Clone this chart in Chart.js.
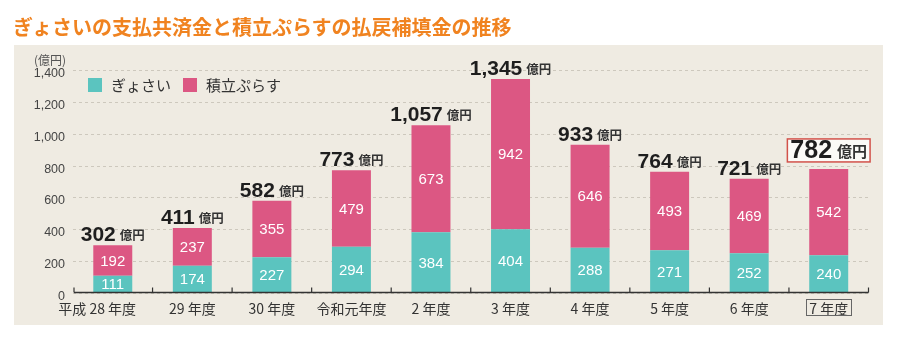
<!DOCTYPE html>
<html><head><meta charset="utf-8">
<script src="https://cdn.jsdelivr.net/npm/chart.js@4/dist/chart.umd.min.js"></script>
<style>
html,body{margin:0;padding:0;background:#fff;}
#wrap{position:relative;width:898px;height:340px;overflow:hidden;}
h1{position:absolute;left:13px;top:15px;margin:0;font:bold 20px "Noto Sans CJK JP";color:#f08320;white-space:nowrap;line-height:24px;}
canvas{position:absolute;left:0;top:0;}
</style></head>
<body><div id="wrap"><canvas id="c" width="898" height="340"></canvas><h1>ぎょさいの支払共済金と積立ぷらすの払戻補填金の推移</h1></div>
<script>
const categories = ['平成 28 年度','29 年度','30 年度','令和元年度','2 年度','3 年度','4 年度','5 年度','6 年度','7 年度'];
const gyosai = [111,174,227,294,384,404,288,271,252,240];
const tsumitate = [192,237,355,479,673,942,646,493,469,542];
const totals = [302,411,582,773,1057,1345,933,764,721,782];
const seriesNames = ['ぎょさい','積立ぷらす'];
const unitLabel = '億円';
const axisUnit = '(億円)';

const F = '"Liberation Sans","Noto Sans CJK JP",sans-serif';
const FJ = '"Noto Sans CJK JP",sans-serif';
const TEAL = '#5bc4bf';
const PINK = '#dc5783';

const deco = {
  id:'deco',
  beforeDraw(chart){
    const c = chart.ctx;
    c.save();
    c.fillStyle = '#efebe2';
    c.fillRect(14,45,869,280);
    c.restore();
  },
  afterDatasetsDraw(chart){
    const c = chart.ctx, a = chart.chartArea, xs = chart.scales.x;
    c.save();
    // axis line + ticks
    const ay = a.bottom - 1;
    c.strokeStyle = '#333'; c.lineWidth = 1.6;
    c.beginPath(); c.moveTo(a.left+1, ay); c.lineTo(a.right, ay); c.stroke();
    c.lineWidth = 1.2;
    const n = categories.length;
    for(let i=0;i<=n;i++){
      let x;
      if(i===0) x = a.left+1; else if(i===n) x = a.right;
      else x = (xs.getPixelForValue(i-1)+xs.getPixelForValue(i))/2;
      c.beginPath(); c.moveTo(x, ay); c.lineTo(x, ay-5); c.stroke();
    }
    // category labels
    c.font = '14px '+FJ; c.fillStyle = '#333'; c.textBaseline='middle'; c.textAlign='left';
    categories.forEach((lab,i)=>{
      const cx = xs.getPixelForValue(i);
      const sp = lab.indexOf(' ');
      let x0;
      if(i===0 && sp>0){
        const rest = lab.slice(sp+1);
        const wr = c.measureText(rest).width, wa = c.measureText(lab).width;
        x0 = cx + wr/2 - wa;
      } else {
        x0 = cx - c.measureText(lab).width/2;
      }
      c.fillText(lab, x0, 308.5);
      if(i===n-1){
        const lw = c.measureText(lab).width;
        c.strokeStyle='#666'; c.lineWidth=1;
        c.strokeRect(Math.round(x0-3)+0.5, 299.5, Math.round(lw+6), 16);
      }
    });
    // inside labels
    c.fillStyle = '#fff'; c.font = '15px '+F; c.textAlign='center'; c.textBaseline='middle';
    [0,1].forEach(d=>{
      const meta = chart.getDatasetMeta(d);
      const vals = d===0?gyosai:tsumitate;
      meta.data.forEach((el,i)=>{
        const yb = d===0 ? Math.min(el.base, ay) : el.base;
        c.fillText(String(vals[i]), el.x, (el.y+yb)/2+1);
      });
    });
    // totals
    const top = chart.getDatasetMeta(1);
    top.data.forEach((el,i)=>{
      const last = i===totals.length-1;
      const numFont = 'bold '+(last?25:21)+'px '+F;
      const unitFont = 'bold '+(last?15:12.5)+'px '+FJ;
      const txt = totals[i].toLocaleString('en-US');
      c.font = numFont; const w1 = c.measureText(txt).width;
      c.font = unitFont; const w2 = c.measureText(unitLabel).width;
      const gap = last?5:4;
      const W = w1+gap+w2;
      const x0 = el.x - W/2;
      const yb = el.y - (last?11:4);
      if(last){
        c.fillStyle='#fbfaf7';
        c.fillRect(x0-3, yb-19, W+6, 23);
        c.strokeStyle='#d2524a'; c.lineWidth=1.5;
        c.strokeRect(x0-3, yb-19, W+6, 23);
      }
      c.textAlign='left'; c.textBaseline='alphabetic';
      c.fillStyle='#1e1e1e'; c.font=numFont; c.fillText(txt, x0, yb);
      c.fillStyle='#333'; c.font=unitFont; c.fillText(unitLabel, x0+w1+gap, yb-1);
    });
    // legend
    c.textAlign='left'; c.textBaseline='middle'; c.font='15px '+FJ;
    let lxp = 88;
    [TEAL,PINK].forEach((col,k)=>{
      c.fillStyle=col; c.fillRect(lxp,78,14,14);
      c.fillStyle='#333'; c.fillText(seriesNames[k], lxp+23, 85.5);
      lxp = 183;
    });
    // unit
    c.font='12px '+FJ; c.fillStyle='#555'; c.textAlign='left';
    c.fillText(axisUnit, 34, 60);
    c.restore();
  }
};

new Chart(document.getElementById('c'),{
  type:'bar',
  data:{labels:categories, datasets:[
    {label:seriesNames[0], data:gyosai, backgroundColor:TEAL, barPercentage:0.49, categoryPercentage:1},
    {label:seriesNames[1], data:tsumitate, backgroundColor:PINK, barPercentage:0.49, categoryPercentage:1}
  ]},
  options:{
    responsive:false, animation:false,
    layout:{padding:{top:70.5,right:29.5,left:0,bottom:0}},
    plugins:{legend:{display:false},tooltip:{enabled:false},title:{display:false}},
    scales:{
      x:{stacked:true, grid:{display:false, drawTicks:false}, border:{display:false},
         ticks:{display:false},
         afterFit(s){s.height=46.5;}},
      y:{stacked:true, min:0, max:1400,
         ticks:{stepSize:200, color:'#444', font:{size:12.5, family:F}, padding:8, labelOffset:3},
         grid:{color:'#cdc8bd', drawTicks:false, lineWidth:1},
         border:{display:false, dash:[3,3]},
         afterFit(s){s.width=73;}}
    }
  },
  plugins:[deco]
});
</script>
</body></html>
